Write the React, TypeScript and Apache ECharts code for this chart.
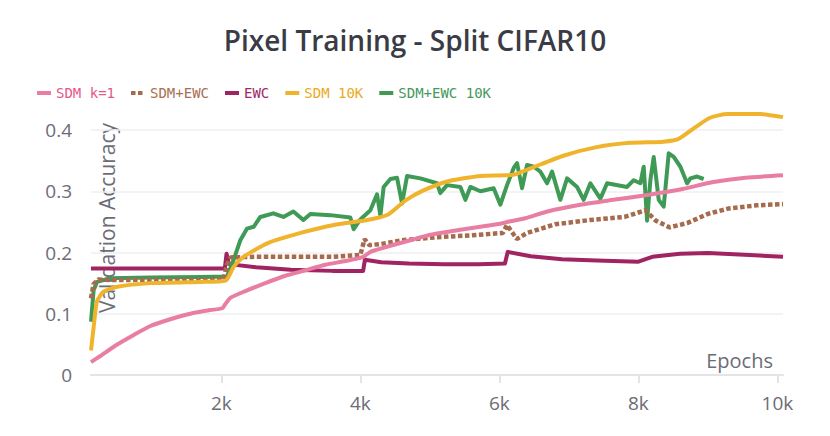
import React, { useEffect, useRef } from "react";
import * as echarts from "echarts";

const titleText = "Pixel Training - Split CIFAR10";
const seriesNames = ["SDM k=1", "SDM+EWC", "EWC", "SDM 10K", "SDM+EWC 10K"];
const xTickValues = [2000, 4000, 6000, 8000, 10000];

const sdmK1Epochs = [125, 259, 490, 734, 979, 1266, 1554, 1842, 2015, 2058, 2130, 2345, 2633, 2921, 3209, 3497, 3784, 4043, 4144, 4432, 4720, 5008, 5151, 5727, 6014, 6158, 6374, 6690, 7165, 7640, 8129, 8604, 9079, 9540, 10080];
const sdmK1Values = [0.021, 0.031, 0.049, 0.065, 0.080, 0.091, 0.100, 0.106, 0.109, 0.116, 0.126, 0.137, 0.150, 0.162, 0.171, 0.180, 0.186, 0.193, 0.201, 0.211, 0.220, 0.229, 0.232, 0.242, 0.247, 0.251, 0.256, 0.267, 0.278, 0.286, 0.294, 0.303, 0.315, 0.322, 0.326];

const sdmEwcEpochs = [125, 160, 230, 400, 1000, 1500, 2030, 2080, 2130, 2500, 3000, 3600, 4000, 4060, 4130, 4300, 4600, 5100, 5600, 6050, 6110, 6250, 6400, 6800, 7300, 7800, 8100, 8250, 8450, 8700, 9000, 9300, 9700, 10080];
const sdmEwcValues = [0.125, 0.148, 0.156, 0.155, 0.155, 0.155, 0.156, 0.180, 0.192, 0.193, 0.193, 0.193, 0.196, 0.222, 0.212, 0.214, 0.220, 0.225, 0.228, 0.232, 0.245, 0.222, 0.232, 0.246, 0.253, 0.258, 0.269, 0.252, 0.241, 0.248, 0.263, 0.272, 0.277, 0.279];

const ewcEpochs = [125, 2050, 2075, 2110, 2500, 3000, 3600, 4040, 4065, 4300, 4700, 5200, 5700, 6080, 6120, 6450, 6900, 7400, 8000, 8200, 8600, 9000, 9600, 10080];
const ewcValues = [0.174, 0.174, 0.198, 0.181, 0.176, 0.172, 0.170, 0.170, 0.188, 0.184, 0.182, 0.181, 0.181, 0.182, 0.201, 0.194, 0.189, 0.187, 0.185, 0.193, 0.198, 0.199, 0.196, 0.193];

const sdm10kEpochs = [125, 165, 210, 305, 500, 980, 1700, 2000, 2080, 2180, 2320, 2660, 3140, 3620, 4100, 4400, 4650, 4900, 5250, 5730, 6200, 6440, 6920, 7400, 7880, 8360, 8570, 8800, 9030, 9280, 9750, 10080];
const sdm10kValues = [0.040, 0.080, 0.120, 0.136, 0.144, 0.150, 0.152, 0.153, 0.156, 0.177, 0.193, 0.215, 0.232, 0.245, 0.253, 0.262, 0.285, 0.301, 0.316, 0.325, 0.327, 0.337, 0.358, 0.372, 0.379, 0.381, 0.385, 0.403, 0.420, 0.426, 0.426, 0.421];

const sdmEwc10kEpochs = [125, 163, 212, 403, 978, 1698, 2082, 2177, 2273, 2370, 2465, 2561, 2748, 2892, 3036, 3180, 3281, 3568, 3856, 3904, 4000, 4144, 4240, 4288, 4335, 4432, 4528, 4600, 4672, 4863, 5103, 5151, 5247, 5439, 5511, 5583, 5727, 5918, 6014, 6110, 6206, 6254, 6326, 6398, 6494, 6590, 6686, 6758, 6877, 6974, 7118, 7213, 7309, 7453, 7549, 7837, 7932, 8028, 8076, 8125, 8172, 8220, 8292, 8364, 8436, 8508, 8604, 8700, 8748, 8844, 8939];
const sdmEwc10kValues = [0.087, 0.139, 0.152, 0.158, 0.159, 0.160, 0.161, 0.188, 0.220, 0.239, 0.242, 0.258, 0.264, 0.258, 0.267, 0.253, 0.263, 0.261, 0.257, 0.238, 0.254, 0.269, 0.295, 0.260, 0.307, 0.320, 0.322, 0.280, 0.325, 0.321, 0.313, 0.297, 0.310, 0.307, 0.286, 0.307, 0.300, 0.305, 0.278, 0.310, 0.338, 0.346, 0.305, 0.343, 0.340, 0.332, 0.313, 0.332, 0.286, 0.321, 0.307, 0.286, 0.313, 0.288, 0.313, 0.307, 0.318, 0.313, 0.340, 0.252, 0.318, 0.356, 0.286, 0.275, 0.362, 0.356, 0.340, 0.313, 0.321, 0.324, 0.320];

const lineColors = ["#e97ea3", "#a66a4d", "#a02462", "#f0b42c", "#3f9a56"];
const textColors = ["#e4588a", "#a86f52", "#a1286a", "#eaa920", "#46995c"];

const zip = (xs: number[], ys: number[]) => xs.map((x, i) => [x, ys[i]]);

const axisGray = "#6c6c76";
const sansFont = "'Open Sans', 'Noto Sans', sans-serif";

export default function App() {
  const ref = useRef<HTMLDivElement>(null);

  useEffect(() => {
    if (!ref.current) return;
    const chart = echarts.init(ref.current, null, { renderer: "svg" });

    const seriesData = [
      zip(sdmK1Epochs, sdmK1Values),
      zip(sdmEwcEpochs, sdmEwcValues),
      zip(ewcEpochs, ewcValues),
      zip(sdm10kEpochs, sdm10kValues),
      zip(sdmEwc10kEpochs, sdmEwc10kValues),
    ];
    const zOrder = [5, 4, 2, 6, 3];
    const smoothness = [0.2, false, false, 0.2, false];

    chart.setOption({
      animation: false,
      backgroundColor: "#ffffff",
      title: {
        text: titleText,
        left: "center",
        top: 26,
        padding: 0,
        textStyle: {
          fontFamily: sansFont,
          fontWeight: 600,
          fontSize: 28,
          color: "#3b3b45",
        },
      },
      legend: {
        left: 35,
        top: 86,
        padding: 0,
        itemWidth: 14,
        itemHeight: 14,
        itemGap: 14,
        lineStyle: { width: 4 },
        itemStyle: { opacity: 0 },
        selectedMode: false,
        textStyle: { fontFamily: "'DejaVu Sans Mono', monospace", fontSize: 14 },
        data: seriesNames.map((name, i) => ({ name, textStyle: { color: textColors[i] } })),
      },
      grid: {
        left: 91,
        right: 47,
        top: 105.5,
        bottom: 61,
        containLabel: false,
        outerBoundsMode: "none",
      },
      xAxis: {
        type: "value",
        min: 125,
        max: 10080,
        name: "Epochs",
        nameLocation: "end",
        nameGap: -10,
        nameTextStyle: {
          align: "right",
          verticalAlign: "bottom",
          fontFamily: sansFont,
          fontSize: 20,
          color: axisGray,
          padding: [0, 0, 5, 0],
        },
        axisLine: { show: true, lineStyle: { color: "#e3e3e8", width: 2 } },
        axisTick: {
          show: true,
          customValues: xTickValues,
          length: 8,
          lineStyle: { color: "#e3e3e8", width: 2 },
        },
        axisLabel: {
          customValues: xTickValues,
          formatter: (v: number) => `${v / 1000}k`,
          margin: 18,
          color: axisGray,
          fontFamily: sansFont,
          fontSize: 19,
        },
        splitLine: { show: false },
      },
      yAxis: {
        type: "value",
        min: 0,
        max: 0.44,
        interval: 0.1,
        axisLine: { show: false },
        axisTick: { show: false },
        axisLabel: {
          showMaxLabel: false,
          margin: 19,
          formatter: (v: number) => (v === 0 ? "0" : v.toFixed(1)),
          color: axisGray,
          fontFamily: sansFont,
          fontSize: 19,
        },
        splitLine: {
          show: true,
          showMaxLine: false,
          lineStyle: { color: "#efeff3", width: 1.5 },
        },
      },
      graphic: [
        {
          type: "text",
          x: 107,
          y: 218,
          rotation: Math.PI / 2,
          z: 0,
          style: {
            text: "Validation Accuracy",
            fill: axisGray,
            fontFamily: sansFont,
            fontSize: 21,
            align: "center",
            verticalAlign: "middle",
          },
        },
      ],
      series: seriesNames.map((name, i) => ({
        name,
        type: "line",
        data: seriesData[i],
        symbol: "none",
        showSymbol: false,
        smooth: smoothness[i],
        z: zOrder[i],
        itemStyle: { color: lineColors[i] },
        lineStyle:
          i === 1
            ? { color: lineColors[i], width: 4.5, type: [4.5, 2.5], cap: "butt" }
            : { color: lineColors[i], width: 4, join: "round" },
        emphasis: { disabled: true },
      })),
    });

    return () => chart.dispose();
  }, []);

  return (
    <div
      ref={ref}
      style={{ position: "absolute", left: 0, top: 0, width: 830, height: 436 }}
    />
  );
}
